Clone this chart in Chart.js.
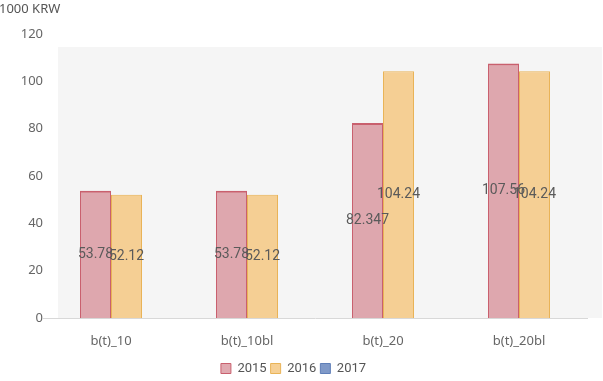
<!DOCTYPE html>
<html>
<head>
<meta charset="utf-8">
<script src="https://cdn.jsdelivr.net/npm/chart.js@4"></script>
<style>
  html, body { margin: 0; padding: 0; background: #fff; }
  #wrap { width: 603px; height: 381px; position: relative; }
</style>
</head>
<body>
<div id="wrap"><canvas id="grafico"></canvas></div>
<script>
const categorias = ['b(t)_10', 'b(t)_10bl', 'b(t)_20', 'b(t)_20bl'];
const anos = ['2015', '2016', '2017'];
const valores2015 = [53.78, 53.78, 82.347, 107.56];
const valores2016 = [52.12, 52.12, 104.24, 104.24];
const valores2017 = [null, null, null, null];
const rotulos2015 = ['53.78', '53.78', '82.347', '107.56'];
const rotulos2016 = ['52.12', '52.12', '104.24', '104.24'];
const ticksY = [0, 20, 40, 60, 80, 100, 120];

// fundo cinza claro da área do gráfico + unidade no topo
const fundoPlugin = {
    id: 'fundo',
    beforeDraw(chart) {
        const { ctx, chartArea: a } = chart;
        ctx.save();
        ctx.fillStyle = '#f5f5f5';
        ctx.fillRect(a.left + 15, a.top + 13, a.right - a.left, a.bottom - a.top - 13);
        ctx.fillStyle = '#555';
        ctx.font = '13px "Noto Sans", sans-serif';
        ctx.textBaseline = 'middle';
        ctx.textAlign = 'left';
        ctx.fillText('1000 KRW', -1, 9);
        ctx.restore();
    }
};

// rótulos no meio de cada barra
const rotulosPlugin = {
    id: 'rotulos',
    afterDatasetsDraw(chart) {
        const { ctx } = chart;
        const textos = [rotulos2015, rotulos2016];
        ctx.save();
        ctx.fillStyle = '#5a5a5a';
        ctx.font = '14px Roboto, sans-serif';
        ctx.textAlign = 'center';
        ctx.textBaseline = 'middle';
        [0, 1].forEach(i => {
            chart.getDatasetMeta(i).data.forEach((bar, j) => {
                const y = (bar.y + bar.base) / 2;
                ctx.fillText(textos[i][j], bar.x, y);
            });
        });
        ctx.restore();
    }
};

new Chart(document.getElementById('grafico'), {
    type: 'bar',
    data: {
        labels: categorias,
        datasets: [
            {
                label: anos[0],
                data: valores2015,
                backgroundColor: 'rgba(214,140,150,0.75)',
                borderColor: '#c9606e',
                borderWidth: { top: 2, left: 1, right: 1, bottom: 0 }
            },
            {
                label: anos[1],
                data: valores2016,
                backgroundColor: 'rgba(244,200,130,0.85)',
                borderColor: '#e9b457',
                borderWidth: 1
            },
            {
                label: anos[2],
                data: valores2017,
                backgroundColor: '#7f99c8',
                borderColor: '#5f7fb8',
                borderWidth: 1
            }
        ]
    },
    options: {
        responsive: true,
        maintainAspectRatio: false,
        animation: false,
        skipNull: true,
        categoryPercentage: 0.456,
        barPercentage: 1,
        layout: { padding: { top: 34, right: 16, left: 0, bottom: -4 } },
        plugins: {
            legend: {
                position: 'bottom',
                labels: {
                    boxWidth: 10,
                    boxHeight: 10,
                    color: '#555',
                    font: { size: 13, family: 'Roboto, sans-serif' },
                    padding: 4
                }
            },
            tooltip: { enabled: false }
        },
        scales: {
            x: {
                afterFit: s => { s.height = 40; },
                grid: { display: false, drawTicks: false },
                border: { color: '#d8d8d8' },
                ticks: { color: '#666', font: { size: 13, family: '"Noto Sans", sans-serif' }, padding: 15 }
            },
            y: {
                min: 0,
                max: 120,
                afterFit: s => { s.width = 43; },
                afterBuildTicks: s => { s.ticks = ticksY.map(v => ({ value: v })); },
                grid: { display: false, drawTicks: false },
                border: { display: false },
                ticks: { color: '#666', font: { size: 13, family: '"Noto Sans", sans-serif' }, padding: 0 }
            }
        }
    },
    plugins: [fundoPlugin, rotulosPlugin]
});
</script>
</body>
</html>
